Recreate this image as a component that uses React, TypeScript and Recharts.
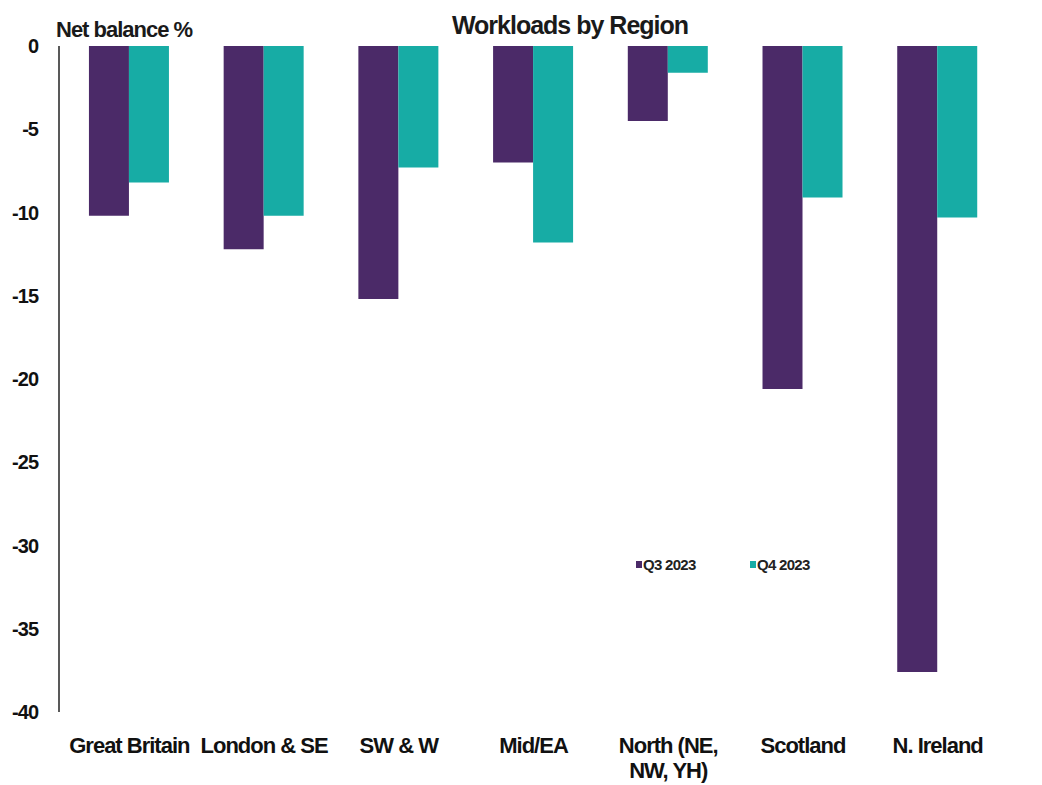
import React from "react";
import { BarChart, Bar, XAxis, YAxis, Legend } from "recharts";

// Net balance % by region, Q3 vs Q4 2023
const regions = [
  "Great Britain",
  "London & SE",
  "SW & W",
  "Mid/EA",
  "North (NE,\nNW, YH)",
  "Scotland",
  "N. Ireland",
];
const q3_2023 = [-10.2, -12.2, -15.2, -7.0, -4.5, -20.6, -37.6];
const q4_2023 = [-8.2, -10.2, -7.3, -11.8, -1.6, -9.1, -10.3];
const yTicks = [0, -5, -10, -15, -20, -25, -30, -35, -40];

const PURPLE = "#4b2a68";
const TEAL = "#17aca5";
const FONT = "'Liberation Sans', Arial, sans-serif";

const data = regions.map((r, i) => ({ region: r, q3: q3_2023[i], q4: q4_2023[i] }));

function RegionTick(props: any) {
  const { x, y, payload } = props;
  const lines = String(payload.value).split("\n");
  return (
    <text
      x={x}
      y={y}
      textAnchor="middle"
      fontFamily={FONT}
      fontWeight="bold"
      fontSize={22}
      letterSpacing={-1}
      fill="#111"
    >
      {lines.map((l, i) => (
        <tspan key={i} x={x} dy={i === 0 ? 33 : 25}>
          {l}
        </tspan>
      ))}
    </text>
  );
}

function LegendBox(props: any) {
  const items = props.payload || [];
  return (
    <div
      style={{
        display: "flex",
        fontFamily: FONT,
        fontWeight: "bold",
        fontSize: 15,
        letterSpacing: -0.7,
        color: "#222",
        lineHeight: "15px",
      }}
    >
      {items.map((it: any) => (
        <div key={it.value} style={{ display: "flex", alignItems: "center", width: 114 }}>
          <span style={{ width: 6, height: 7, background: it.color, marginRight: 1 }} />
          {it.value}
        </div>
      ))}
    </div>
  );
}

export default function App() {
  return (
    <div style={{ position: "absolute", left: 0, top: 0, width: 1042, height: 785, background: "#fff" }}>
      <div
        style={{
          position: "absolute",
          left: 56,
          top: 17,
          fontFamily: FONT,
          fontWeight: "bold",
          fontSize: 22,
          letterSpacing: -1,
          color: "#1a1a1a",
        }}
      >
        Net balance %
      </div>
      <div
        style={{
          position: "absolute",
          left: 0,
          width: 1140,
          top: 11,
          textAlign: "center",
          fontFamily: FONT,
          fontWeight: "bold",
          fontSize: 25,
          letterSpacing: -1,
          color: "#1a1a1a",
        }}
      >
        Workloads by Region
      </div>
      <BarChart
        width={1042}
        height={785}
        data={data}
        margin={{ top: 46, right: 0, bottom: 0, left: 0 }}
        barCategoryGap="20%"
        barGap={0}
      >
        <XAxis
          dataKey="region"
          axisLine={false}
          tickLine={false}
          height={58}
          interval={0}
          padding={{ left: 3, right: 37 }}
          tick={<RegionTick />}
        />
        <XAxis
          xAxisId="zero"
          orientation="top"
          dataKey="region"
          height={0}
          tick={false}
          tickLine={false}
          axisLine={{ stroke: "#111", strokeWidth: 2 }}
        />
        <YAxis
          width={59}
          domain={[-40, 0]}
          ticks={yTicks}
          interval={0}
          tickLine={false}
          tickSize={0}
          tickMargin={21}
          axisLine={{ stroke: "#222", strokeWidth: 1.5 }}
          tick={{ fontFamily: FONT, fontWeight: "bold", fontSize: 20, letterSpacing: -1, fill: "#111" }}
        />
        <Legend
          content={<LegendBox />}
          wrapperStyle={{ position: "absolute", left: 636, top: 557, width: 240 }}
        />
        <Bar dataKey="q3" name="Q3 2023" fill={PURPLE} isAnimationActive={false} />
        <Bar dataKey="q4" name="Q4 2023" fill={TEAL} isAnimationActive={false} />
      </BarChart>
    </div>
  );
}
